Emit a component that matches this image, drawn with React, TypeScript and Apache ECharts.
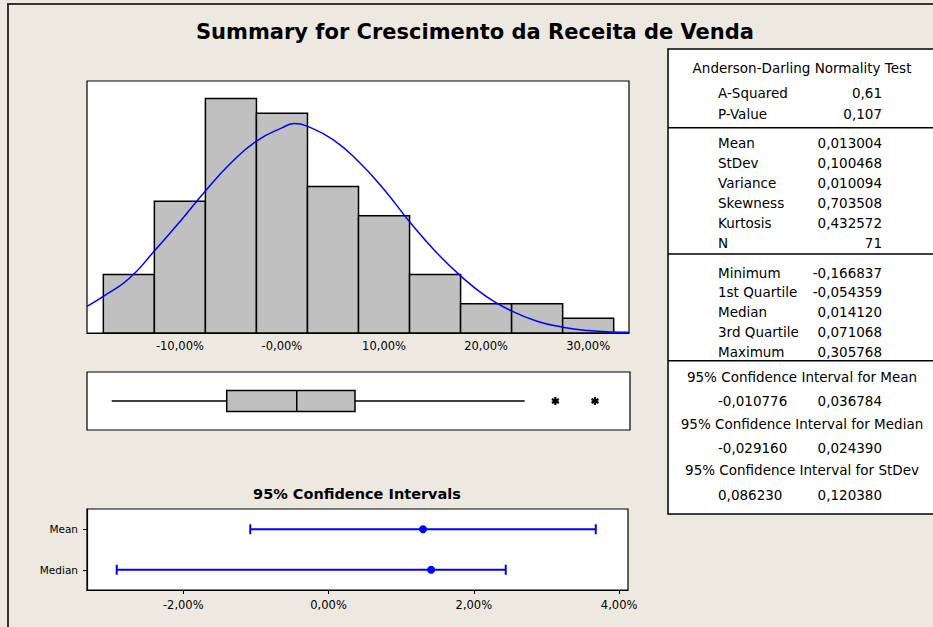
import React, { useEffect, useRef } from "react";
import * as echarts from "echarts";

const FONT = "DejaVu Sans";
const TITLE = "Summary for Crescimento da Receita de Venda";
const CI_TITLE = "95% Confidence Intervals";

// Histogram (bin edges in fraction units, counts per bin)
const binStarts = [-0.175, -0.125, -0.075, -0.025, 0.025, 0.075, 0.125, 0.175, 0.225, 0.275];
const binWidth = 0.05;
const binCounts = [4, 9, 16, 15, 10, 8, 4, 2, 2, 1];
const histTickValues = [-0.1, 0, 0.1, 0.2, 0.3];
const histTickLabels = ["-10,00%", "-0,00%", "10,00%", "20,00%", "30,00%"];

// Fitted curve, points
const curveX = [-0.191, -0.175, -0.15, -0.125, -0.1, -0.075, -0.05, -0.025, 0, 0.0125, 0.025, 0.05, 0.075, 0.1, 0.125, 0.15, 0.175, 0.2, 0.225, 0.25, 0.275, 0.3, 0.325, 0.34];
const curveY = [1.82, 2.5, 3.7, 5.6, 7.6, 9.7, 11.6, 13.1, 14.0, 14.3, 14.1, 13.2, 11.7, 9.8, 7.6, 5.6, 3.9, 2.5, 1.5, 0.8, 0.4, 0.17, 0.07, 0.05];

// Boxplot: [lower whisker, Q1, median, Q3, upper whisker]
const boxStats = [-0.166837, -0.054359, 0.01412, 0.071068, 0.237];
const outliers = [0.267, 0.305768];

// Confidence intervals
const ciCategories = ["Median", "Mean"];
const ciEstimates = [0.01412, 0.013004];
const ciLow = [-0.02916, -0.010776];
const ciHigh = [0.02439, 0.036784];
const ciTickValues = [-0.02, 0, 0.02, 0.04];
const ciTickLabels = ["-2,00%", "0,00%", "2,00%", "4,00%"];

// Statistics table
const adHeader = "Anderson-Darling Normality Test";
const adRows = [
  ["A-Squared", "0,61"],
  ["P-Value", "0,107"],
];
const momentRows = [
  ["Mean", "0,013004"],
  ["StDev", "0,100468"],
  ["Variance", "0,010094"],
  ["Skewness", "0,703508"],
  ["Kurtosis", "0,432572"],
  ["N", "71"],
];
const quantileRows = [
  ["Minimum", "-0,166837"],
  ["1st Quartile", "-0,054359"],
  ["Median", "0,014120"],
  ["3rd Quartile", "0,071068"],
  ["Maximum", "0,305768"],
];
const ciRows = [
  ["95% Confidence Interval for Mean", "-0,010776", "0,036784"],
  ["95% Confidence Interval for Median", "-0,029160", "0,024390"],
  ["95% Confidence Interval for StDev", "0,086230", "0,120380"],
];

const BG = "#EDE9E0";
const BLUE = "#0000FF";
const GRAY = "#C0C0C0";

function txt(text: string, x: number, y: number, align: string, size: number, weight = "normal") {
  return {
    type: "text",
    x,
    y,
    silent: true,
    style: {
      text,
      fill: "#000",
      fontFamily: FONT,
      fontSize: size,
      fontWeight: weight,
      align,
      verticalAlign: "middle",
      textAlign: align,
      textVerticalAlign: "middle",
    },
  };
}

function labelFor(values: number[], labels: string[]) {
  return (v: number) => {
    const i = values.findIndex((t) => Math.abs(t - v) < 1e-9);
    return i >= 0 ? labels[i] : "";
  };
}

export default function App() {
  const ref = useRef<HTMLDivElement>(null);

  useEffect(() => {
    document.body.style.margin = "0";
    const chart = echarts.init(ref.current!, undefined, { renderer: "svg" });

    const graphic: any[] = [];
    // outer frame
    graphic.push({
      type: "rect",
      silent: true,
      shape: { x: 8, y: 4, width: 1000, height: 1000 },
      style: { fill: "none", stroke: "#333", lineWidth: 2 },
    });
    graphic.push(txt(TITLE, 475, 32, "center", 21, "bold"));
    graphic.push(txt(CI_TITLE, 357, 494, "center", 14.5, "bold"));

    // table
    const tx = 668;
    graphic.push({
      type: "rect",
      silent: true,
      shape: { x: tx, y: 49, width: 400, height: 465 },
      style: { fill: "#fff", stroke: "#000", lineWidth: 1.5 },
    });
    [127.7, 254, 360.7].forEach((y) =>
      graphic.push({
        type: "line",
        silent: true,
        shape: { x1: tx, y1: y, x2: 1000, y2: y },
        style: { stroke: "#000", lineWidth: 1.5 },
      })
    );
    const FS = 13.5;
    const lx = 718;
    const rx = 882;
    graphic.push(txt(adHeader, 802, 68, "center", FS));
    adRows.forEach((r, i) => {
      graphic.push(txt(r[0], lx, 93 + i * 21, "left", FS));
      graphic.push(txt(r[1], rx, 93 + i * 21, "right", FS));
    });
    momentRows.forEach((r, i) => {
      graphic.push(txt(r[0], lx, 143 + i * 20, "left", FS));
      graphic.push(txt(r[1], rx, 143 + i * 20, "right", FS));
    });
    quantileRows.forEach((r, i) => {
      graphic.push(txt(r[0], lx, 272.7 + i * 19.75, "left", FS));
      graphic.push(txt(r[1], rx, 272.7 + i * 19.75, "right", FS));
    });
    ciRows.forEach((r, i) => {
      graphic.push(txt(r[0], 802, 377.3 + i * 46.5, "center", FS));
      graphic.push(txt(r[1], lx, 401 + i * 47, "left", FS));
      graphic.push(txt(r[2], rx, 401 + i * 47, "right", FS));
    });

    const axisText = { color: "#000", fontFamily: FONT, fontSize: 11.5 };

    const option: any = {
      animation: false,
      backgroundColor: BG,
      graphic,
      grid: [
        { left: 87, top: 81, width: 542, height: 252, show: true, backgroundColor: "#fff", borderColor: "#000", borderWidth: 1.2 },
        { left: 87, top: 372, width: 543, height: 58, show: true, backgroundColor: "#fff", borderColor: "#000", borderWidth: 1.2 },
        { left: 87, top: 509, width: 541, height: 81, show: true, backgroundColor: "#fff", borderColor: "#000", borderWidth: 1.2 },
      ],
      xAxis: [
        {
          type: "value",
          gridIndex: 0,
          min: -0.191,
          max: 0.34,
          splitLine: { show: false },
          axisLine: { show: true, onZero: false, lineStyle: { color: "#000", width: 1.2 } },
          axisTick: { show: false },
          axisLabel: {
            ...axisText,
            margin: 7,
            customValues: histTickValues,
            formatter: labelFor(histTickValues, histTickLabels),
          },
        },
        {
          type: "value",
          gridIndex: 1,
          min: -0.191,
          max: 0.34,
          show: false,
        },
        {
          type: "value",
          gridIndex: 2,
          min: -0.03325,
          max: 0.04122,
          splitLine: { show: false },
          axisLine: { show: true, onZero: false, lineStyle: { color: "#000", width: 1.2 } },
          axisTick: { show: true, length: 4, lineStyle: { color: "#000" }, customValues: ciTickValues },
          axisLabel: {
            ...axisText,
            margin: 9,
            customValues: ciTickValues,
            formatter: labelFor(ciTickValues, ciTickLabels),
          },
        },
      ],
      yAxis: [
        { type: "value", gridIndex: 0, min: 0, max: 17.2, show: false },
        { type: "value", gridIndex: 1, min: 0, max: 1, show: false },
        {
          type: "category",
          gridIndex: 2,
          data: ciCategories,
          axisLine: { show: true, onZero: false, lineStyle: { color: "#000", width: 1.2 } },
          axisTick: { show: true, length: 4, alignWithLabel: true, lineStyle: { color: "#000" } },
          axisLabel: { ...axisText, fontSize: 10.5, margin: 9 },
          splitLine: { show: false },
        },
      ],
      series: [
        {
          type: "custom",
          xAxisIndex: 0,
          yAxisIndex: 0,
          data: binStarts.map((s, i) => [s, s + binWidth, binCounts[i]]),
          encode: { x: [0, 1], y: 2 },
          renderItem: (params: any, api: any) => {
            const p0 = api.coord([api.value(0), api.value(2)]);
            const p1 = api.coord([api.value(1), 0]);
            return {
              type: "rect",
              shape: { x: p0[0], y: p0[1], width: p1[0] - p0[0], height: p1[1] - p0[1] },
              style: { fill: GRAY, stroke: "#000", lineWidth: 1.5 },
            };
          },
        },
        {
          type: "line",
          xAxisIndex: 0,
          yAxisIndex: 0,
          data: curveX.map((x, i) => [x, curveY[i]]),
          smooth: 0.5,
          showSymbol: false,
          lineStyle: { color: BLUE, width: 1.5 },
          clip: true,
        },
        {
          type: "custom",
          xAxisIndex: 1,
          yAxisIndex: 1,
          data: [boxStats],
          encode: { x: [0, 1, 2, 3, 4] },
          renderItem: (params: any, api: any) => {
            const yc = api.coord([0, 0.5])[1];
            const x = [0, 1, 2, 3, 4].map((k) => api.coord([api.value(k), 0.5])[0]);
            const h = 10.5;
            const st = { stroke: "#000", lineWidth: 1.5 };
            return {
              type: "group",
              children: [
                { type: "line", shape: { x1: x[0], y1: yc, x2: x[1], y2: yc }, style: st },
                { type: "line", shape: { x1: x[3], y1: yc, x2: x[4], y2: yc }, style: st },
                { type: "rect", shape: { x: x[1], y: yc - h, width: x[3] - x[1], height: 2 * h }, style: { ...st, fill: GRAY } },
                { type: "line", shape: { x1: x[2], y1: yc - h, x2: x[2], y2: yc + h }, style: st },
              ],
            };
          },
        },
        {
          type: "custom",
          xAxisIndex: 1,
          yAxisIndex: 1,
          data: outliers.map((v) => [v, 0.5]),
          encode: { x: 0, y: 1 },
          renderItem: (params: any, api: any) => {
            const p = api.coord([api.value(0), api.value(1)]);
            const r = 4;
            const st = { stroke: "#000", lineWidth: 2.2 };
            const c = Math.cos(Math.PI / 6) * r;
            const s = Math.sin(Math.PI / 6) * r;
            return {
              type: "group",
              children: [
                { type: "line", shape: { x1: p[0], y1: p[1] - r, x2: p[0], y2: p[1] + r }, style: st },
                { type: "line", shape: { x1: p[0] - c, y1: p[1] - s, x2: p[0] + c, y2: p[1] + s }, style: st },
                { type: "line", shape: { x1: p[0] - c, y1: p[1] + s, x2: p[0] + c, y2: p[1] - s }, style: st },
              ],
            };
          },
        },
        {
          type: "custom",
          xAxisIndex: 2,
          yAxisIndex: 2,
          data: ciCategories.map((c, i) => [ciLow[i], ciHigh[i], ciEstimates[i], i]),
          encode: { x: [0, 1, 2], y: 3 },
          renderItem: (params: any, api: any) => {
            const lo = api.coord([api.value(0), api.value(3)]);
            const hi = api.coord([api.value(1), api.value(3)]);
            const est = api.coord([api.value(2), api.value(3)]);
            const st = { stroke: BLUE, lineWidth: 2 };
            const ch = 5;
            return {
              type: "group",
              children: [
                { type: "line", shape: { x1: lo[0], y1: lo[1], x2: hi[0], y2: hi[1] }, style: st },
                { type: "line", shape: { x1: lo[0], y1: lo[1] - ch, x2: lo[0], y2: lo[1] + ch }, style: st },
                { type: "line", shape: { x1: hi[0], y1: hi[1] - ch, x2: hi[0], y2: hi[1] + ch }, style: st },
                { type: "circle", shape: { cx: est[0], cy: est[1], r: 4 }, style: { fill: BLUE } },
              ],
            };
          },
        },
      ],
    };

    chart.setOption(option);
    return () => chart.dispose();
  }, []);

  return <div ref={ref} style={{ position: "fixed", left: 0, top: 0, width: 933, height: 627 }} />;
}
